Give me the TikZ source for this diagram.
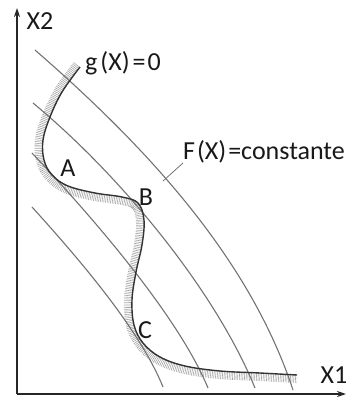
\documentclass[tikz,border=0pt]{standalone}
\usepackage{fontspec}
\setmainfont{Carlito}
\usetikzlibrary{arrows.meta}
\begin{document}
\begin{tikzpicture}[x=1pt,y=-1pt,
  axis/.style={line width=1.8pt, draw=black!85, -{Stealth[length=9pt,width=6pt]}},
  contour/.style={line width=1.1pt, draw=black!55},
  gcurve/.style={line width=1.4pt, draw=black!80},
  hatchband/.style={line width=8pt, draw=black!35, dash pattern=on 0.6pt off 1.1pt},
  lbl/.style={font=\fontsize{26}{29}\selectfont, text=black!90, inner sep=0pt}
]
\useasboundingbox (0,0) rectangle (348,399);
% axes
\coordinate (O) at (17,394);
\coordinate (Ytip) at (17,8);
\coordinate (Xtip) at (346,394);
\draw[axis] (O) -- (Ytip);
\draw[axis] (O) -- (Xtip);
% hatching of the constraint (band on the infeasible side)
\draw[hatchband] plot[smooth, tension=0.6] coordinates {
  (76.8,64.7) (58.6,90) (46.3,115.5) (39,139.4) (40.1,161) (49.1,177.7) (66.4,189.7)
  (94.2,196.9) (121.1,200.9) (135.1,205.8) (140,220.4) (138,244.4) (132.1,271.3)
  (128,299.8) (130.1,326) (139.9,345.5) (158.1,360.5) (184.1,369.9) (219.6,375)
  (260,377) (297,379)};
% contour lines F(X)=constante
\draw[contour] (35,50) .. controls (150,150) and (250,260) .. (293,390);
\draw[contour] (33,103) .. controls (120,175) and (215,290) .. (255,388);
\draw[contour] (32,153) .. controls (100,225) and (180,320) .. (208,388);
\draw[contour] (32,207) .. controls (80,260) and (140,330) .. (163,387);
% constraint curve g(X)=0
\draw[gcurve] plot[smooth, tension=0.6] coordinates {
  (80,67) (62,92) (50,117) (43,140) (44,160) (52,175) (68,186) (95,193) (122,197) (138,203)
  (144,220) (142,245) (136,272) (132,300) (134,325) (143,343) (160,357) (185,366) (220,371) (260,373) (297,375)};
% labels
\node[lbl] (x2) at (40,21) {X2};
\node[lbl] (x1) at (334,375) {X1};
\node[lbl] (g) at (123,63) {g\kern3pt(X)\kern3pt=\kern2pt0};
\node[lbl] (F) at (264,152) {F\kern2pt(X)\kern2pt=constante};
\node[lbl] (A) at (68,168) {A};
\node[lbl] (B) at (146,197) {B};
\node[lbl] (C) at (145,330) {C};
% leader
\coordinate (Fline) at (163,181);
\coordinate (Fend) at (183,163);
\draw[contour, line width=0.8pt] (Fline) -- (Fend);
\end{tikzpicture}
\end{document}
